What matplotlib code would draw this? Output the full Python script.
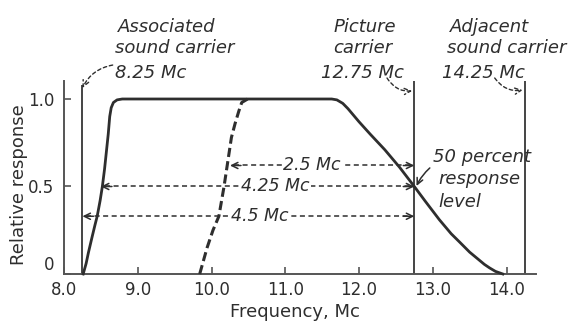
import matplotlib as mpl

mpl.use("Agg")
import matplotlib.pyplot as plt

# response curves (frequency in Mc, relative response)
freq_solid = [8.26, 8.30, 8.33, 8.38, 8.42, 8.45, 8.49, 8.52, 8.55, 8.575, 8.60,
              8.62, 8.64, 8.67, 8.72, 8.79,
              11.63, 11.70, 11.78, 11.85, 11.92, 12.00, 12.15, 12.35, 12.55, 12.75,
              12.90, 13.09, 13.25, 13.37, 13.50, 13.60, 13.70, 13.77, 13.85, 13.95]
resp_solid = [0.0, 0.06, 0.12, 0.21, 0.28, 0.33, 0.42, 0.50, 0.60, 0.70, 0.80,
              0.90, 0.95, 0.98, 0.995, 1.0,
              1.0, 0.995, 0.975, 0.945, 0.91, 0.87, 0.80, 0.71, 0.61, 0.50,
              0.415, 0.31, 0.23, 0.18, 0.125, 0.09, 0.055, 0.035, 0.015, 0.0]
freq_dashed = [9.84, 9.94, 10.02, 10.10, 10.17, 10.22, 10.27, 10.32, 10.37, 10.41, 10.49]
resp_dashed = [0.0, 0.15, 0.25, 0.33, 0.50, 0.64, 0.78, 0.86, 0.93, 0.98, 1.0]

carrier_freqs = [8.25, 12.75, 14.25]
carrier_tops = [1.08, 1.10, 1.10]

span_starts = [10.25, 8.5, 8.25]
span_end = 12.75
span_levels = [0.62, 0.5, 0.33]
span_labels = ["2.5 Mc", "4.25 Mc", "4.5 Mc"]

x_ticks = [8.0, 9.0, 10.0, 11.0, 12.0, 13.0, 14.0]
x_tick_labels = ["8.0", "9.0", "10.0", "11.0", "12.0", "13.0", "14.0"]
y_ticks = [0.0, 0.5, 1.0]
y_tick_labels = ["0", "0.5", "1.0"]

INK = "#2e2e2e"
AXIS = "#555555"

fig = plt.figure(figsize=(5.69, 3.25), dpi=100)
ax = fig.add_axes([64 / 569, 51 / 325, 472 / 569, 1.1 * 175 / 325])
ax.set_xlim(8.0, 14.4)
ax.set_ylim(0.0, 1.1)

for side in ("top", "right"):
    ax.spines[side].set_visible(False)
for side in ("left", "bottom"):
    ax.spines[side].set_color(AXIS)
    ax.spines[side].set_linewidth(1.4)

ax.set_xticks(x_ticks, x_tick_labels)
ax.set_yticks(y_ticks, y_tick_labels)
ax.tick_params(axis="both", direction="in", length=5, width=1.2, color=AXIS,
               labelsize=12, labelcolor=INK)
ax.tick_params(axis="x", pad=5)
ax.tick_params(axis="y", pad=7)
# the "0" sits just above the axis line, clear of "8.0"
ax.get_yticklabels()[0].set_verticalalignment("bottom")

ax.set_xlabel("Frequency, Mc", fontsize=13, color=INK)
ax.set_ylabel("Relative response", fontsize=13, color=INK)
ax.xaxis.set_label_coords(0.489, -0.15)
ax.yaxis.set_label_coords(-0.076, 0.462)

# carrier marker lines
ax.vlines(carrier_freqs, 0, carrier_tops, color="#444444", lw=1.4, clip_on=False)

# response curves
ax.plot(freq_solid, resp_solid, color=INK, lw=2.0, solid_joinstyle="round",
        clip_on=False, zorder=4)
ax.plot(freq_dashed, resp_dashed, color=INK, lw=2.2, ls=(0, (3.0, 1.4)),
        clip_on=False, zorder=4)

# bandwidth dimension lines
text_x = [11.36, 10.87, 10.66]
for x0, y, label, tx in zip(span_starts, span_levels, span_labels, text_x):
    ax.plot([x0 + 0.05, span_end - 0.05], [y, y], color=INK, lw=1.1,
            ls=(0, (3.3, 2.3)), zorder=3)
    for tip, tail in ((x0, x0 + 0.15), (span_end, span_end - 0.15)):
        ax.annotate("", xy=(tip, y), xytext=(tail, y),
                    arrowprops=dict(arrowstyle="->,head_length=0.45,head_width=0.22",
                                    color=INK, lw=1.1, shrinkA=0, shrinkB=0),
                    zorder=3)
    ax.text(tx, y, label, ha="center", va="center", style="italic", fontsize=12.5,
            color=INK, zorder=5,
            bbox=dict(fc="white", ec="none", pad=1.0))

# carrier captions
caption_kw = dict(style="italic", fontsize=13, color=INK, va="baseline")
ax.text(8.73, 1.383, "Associated", ha="left", **caption_kw)
ax.text(8.69, 1.263, "sound carrier", ha="left", **caption_kw)
ax.text(8.69, 1.12, "8.25 Mc", ha="left", **caption_kw)

ax.text(12.08, 1.383, "Picture", ha="center", **caption_kw)
ax.text(12.05, 1.263, "carrier", ha="center", **caption_kw)
ax.text(12.04, 1.12, "12.75 Mc", ha="center", **caption_kw)

ax.text(13.23, 1.383, "Adjacent", ha="left", **caption_kw)
ax.text(13.19, 1.263, "sound carrier", ha="left", **caption_kw)
ax.text(13.13, 1.12, "14.25 Mc", ha="left", **caption_kw)

ax.text(13.0, 0.64, "50 percent", ha="left", **caption_kw)
ax.text(13.07, 0.514, "response", ha="left", **caption_kw)
ax.text(13.07, 0.383, "level", ha="left", **caption_kw)

dashed_arrow = dict(arrowstyle="->,head_length=0.45,head_width=0.22", color=INK,
                    lw=1.0, ls=(0, (2.5, 2.0)), shrinkA=0, shrinkB=0)
ax.annotate("", xy=(8.25, 1.063), xytext=(8.66, 1.194),
            arrowprops=dict(dashed_arrow, connectionstyle="arc3,rad=0.25"),
            annotation_clip=False)
ax.annotate("", xy=(12.72, 1.046), xytext=(12.38, 1.12),
            arrowprops=dict(dashed_arrow, connectionstyle="arc3,rad=0.3"),
            annotation_clip=False)
ax.annotate("", xy=(14.22, 1.051), xytext=(13.84, 1.12),
            arrowprops=dict(dashed_arrow, connectionstyle="arc3,rad=0.3"),
            annotation_clip=False)
ax.annotate("", xy=(12.78, 0.503), xytext=(12.96, 0.606),
            arrowprops=dict(arrowstyle="->,head_length=0.45,head_width=0.22",
                            color=INK, lw=1.1, shrinkA=0, shrinkB=0,
                            connectionstyle="arc3,rad=0.1"),
            zorder=5)

fig.savefig("out.png", dpi=100)
plt.close(fig)
